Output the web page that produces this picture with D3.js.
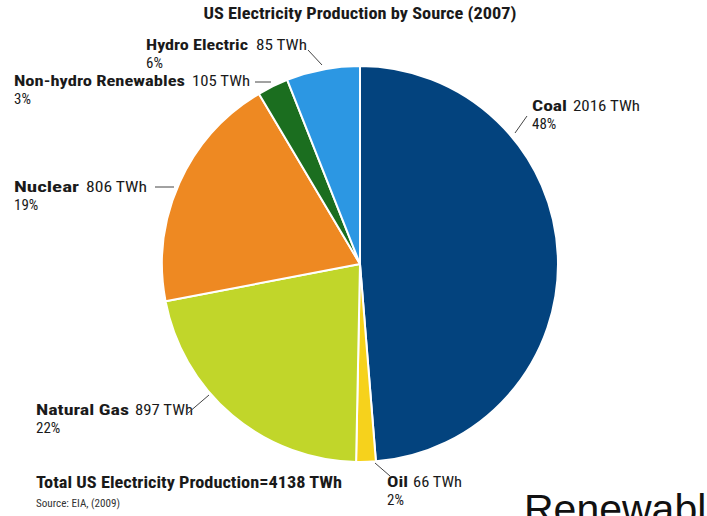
<!DOCTYPE html>
<html><head><meta charset="utf-8">
<script src="https://cdn.jsdelivr.net/npm/d3@7/dist/d3.min.js"></script>
<style>
html,body{margin:0;padding:0;background:#fff;}
svg{display:block;}
text{font-family:"Liberation Sans Narrow","Roboto Condensed","Liberation Sans",Arial,sans-serif;fill:#1a1a1a;}
</style></head>
<body><svg id="c" width="707" height="516"></svg>
<script>
// ---- data ----
const sources   = ["Coal","Oil","Natural Gas","Nuclear","Non-hydro Renewables","Hydro Electric"];
const twh       = [2016, 66, 897, 806, 105, 248];          // slice sizes (sum 4138)
const twhLabels = ["2016 TWh","66 TWh","897 TWh","806 TWh","105 TWh","85 TWh"];
const pctLabels = ["48%","2%","22%","19%","3%","6%"];
const colors    = ["#03437e","#f6d21c","#c1d62a","#ee8922","#1b6e1f","#2c97e3"];
const title     = "US Electricity Production by Source (2007)";
const totalText = "Total US Electricity Production=4138 TWh";
const sourceText= "Source: EIA, (2009)";

// ---- layout ----
const cx = 360, cy = 264, R = 198;
const labelLayout = [
  {x:532, y:111, nameW:35, valX:573, valW:67, line:[[515,133],[527,116]]},
  {x:387, y:487, nameW:21, valX:413, valW:49, line:[[375,463],[390,476]]},
  {x:36,  y:415, nameW:93, valX:135, valW:58, line:[[188,413],[209,395]]},
  {x:14,  y:192, nameW:65, valX:86,  valW:61, line:[[155,187],[174,187]]},
  {x:14,  y:86,  nameW:171,valX:192, valW:58, line:[[255,82],[271,82]]},
  {x:146, y:50,  nameW:102,valX:256, valW:51, line:[[308,50],[322,65]]}
];

const svg = d3.select("#c");
const data = sources.map((s,i)=>({name:s, value:twh[i], color:colors[i], twh:twhLabels[i], pct:pctLabels[i], L:labelLayout[i]}));

const pie = d3.pie().value(d=>d.value).sort(null);
const arc = d3.arc().innerRadius(0).outerRadius(R);

const g = svg.append("g").attr("transform",`translate(${cx},${cy})`);
g.selectAll("path").data(pie(data)).join("path")
  .attr("d",arc).attr("fill",d=>d.data.color)
  .attr("stroke","#fff").attr("stroke-width",2).attr("stroke-linejoin","round");

// title
svg.append("text").attr("x",360).attr("y",19).attr("text-anchor","middle")
  .attr("font-weight","bold").attr("font-size",17).attr("textLength",313).attr("lengthAdjust","spacingAndGlyphs")
  .text(title);

// labels
const lab = svg.selectAll("g.lab").data(data).join("g").attr("class","lab");
lab.append("text").attr("x",d=>d.L.x).attr("y",d=>d.L.y).attr("font-size",15).attr("font-weight","bold")
  .attr("textLength",d=>d.L.nameW).attr("lengthAdjust","spacingAndGlyphs").text(d=>d.name);
lab.append("text").attr("x",d=>d.L.valX).attr("y",d=>d.L.y).attr("font-size",15)
  .attr("textLength",d=>d.L.valW).attr("lengthAdjust","spacingAndGlyphs").text(d=>d.twh);
lab.append("text").attr("x",d=>d.L.x).attr("y",d=>d.L.y+18).attr("font-size",15).text(d=>d.pct);
lab.append("line")
  .attr("x1",d=>d.L.line[0][0]).attr("y1",d=>d.L.line[0][1])
  .attr("x2",d=>d.L.line[1][0]).attr("y2",d=>d.L.line[1][1])
  .attr("stroke","#444").attr("stroke-width",1);

// footer
svg.append("text").attr("x",36).attr("y",488).attr("font-weight","bold").attr("font-size",17)
  .attr("textLength",306).attr("lengthAdjust","spacingAndGlyphs").text(totalText);
svg.append("text").attr("x",36).attr("y",507).attr("font-size",10).style("fill","#333")
  .attr("textLength",84).attr("lengthAdjust","spacingAndGlyphs").text(sourceText);

// overflowing caption (clipped in the reference as well)
svg.append("text").attr("x",524).attr("y",523).attr("font-size",41)
  .style("font-family","'Liberation Sans',Arial,sans-serif").style("fill","#111").text("Renewables");
</script></body></html>
